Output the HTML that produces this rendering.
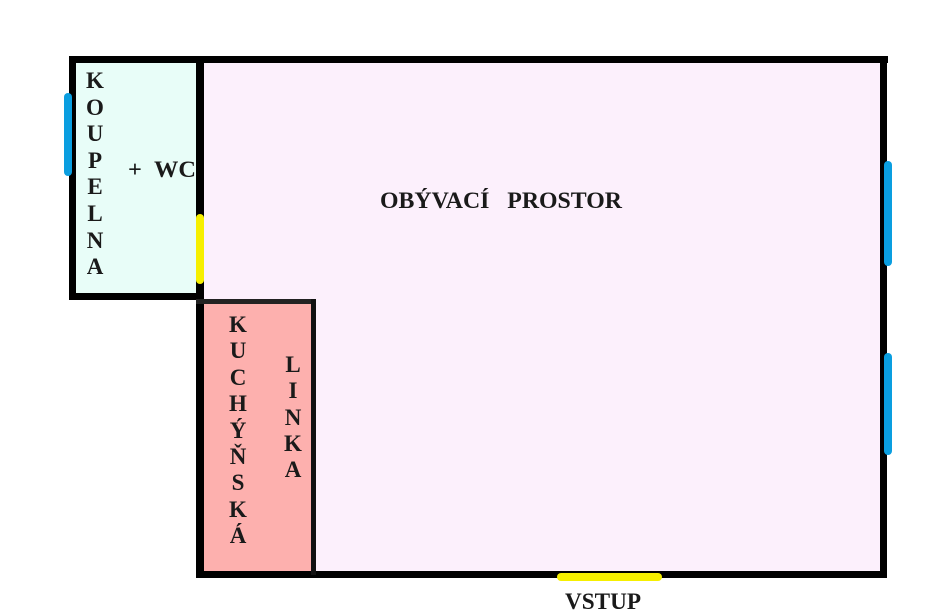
<!DOCTYPE html>
<html><head><meta charset="utf-8"><style>
html,body{margin:0;padding:0;background:#fff;}
svg{display:block;}
text{font-family:"Liberation Serif",serif;font-weight:bold;fill:#1a1a1a;font-size:23px;}
</style></head><body>
<svg width="942" height="614" viewBox="0 0 942 614" xmlns="http://www.w3.org/2000/svg">
<rect x="200" y="60" width="683" height="515" fill="#fcf0fc"/>
<rect x="72" y="60" width="128" height="236" fill="#e8fdf8"/>
<rect x="200" y="302" width="113" height="273" fill="#fdb0ae"/>
<g fill="#000">
<rect x="69" y="56" width="819" height="7"/>
<rect x="69" y="56" width="7" height="244"/>
<rect x="69" y="293" width="134" height="7"/>
<rect x="196" y="56" width="8" height="522"/>
<rect x="880" y="56" width="7" height="522"/>
<rect x="196" y="571" width="691" height="7"/>
<rect x="196" y="299" width="120" height="5" fill="#222"/>
<rect x="311" y="299" width="5" height="276" fill="#111"/>
</g>
<rect x="64" y="93" width="8" height="83" rx="4" fill="#0a9ee0"/>
<rect x="884" y="161" width="8" height="105" rx="4" fill="#0a9ee0"/>
<rect x="884" y="353" width="8" height="102" rx="4" fill="#0a9ee0"/>
<rect x="196" y="214" width="8" height="70" rx="4" fill="#f6ef00"/>
<rect x="557" y="573" width="105" height="8" rx="4" fill="#f6ef00"/>
<g text-anchor="middle">
<text x="95" y="88">K</text><text x="95" y="115">O</text><text x="95" y="141">U</text><text x="95" y="168">P</text><text x="95" y="194">E</text><text x="95" y="221">L</text><text x="95" y="248">N</text><text x="95" y="274">A</text>
<text x="238" y="332">K</text><text x="238" y="358">U</text><text x="238" y="385">C</text><text x="238" y="411">H</text><text x="238" y="438">Ý</text><text x="238" y="464">Ň</text><text x="238" y="490">S</text><text x="238" y="517">K</text><text x="238" y="543">Á</text>
<text x="293" y="372">L</text><text x="293" y="398">I</text><text x="293" y="425">N</text><text x="293" y="451">K</text><text x="293" y="477">A</text>
</g>
<text x="128" y="177" textLength="68" lengthAdjust="spacingAndGlyphs">+&#160;&#160;WC</text>
<text x="380" y="208" textLength="242" lengthAdjust="spacingAndGlyphs">OBÝVACÍ&#160;&#160;&#160;PROSTOR</text>
<text x="565" y="609" textLength="76" lengthAdjust="spacingAndGlyphs">VSTUP</text>
</svg>
</body></html>
